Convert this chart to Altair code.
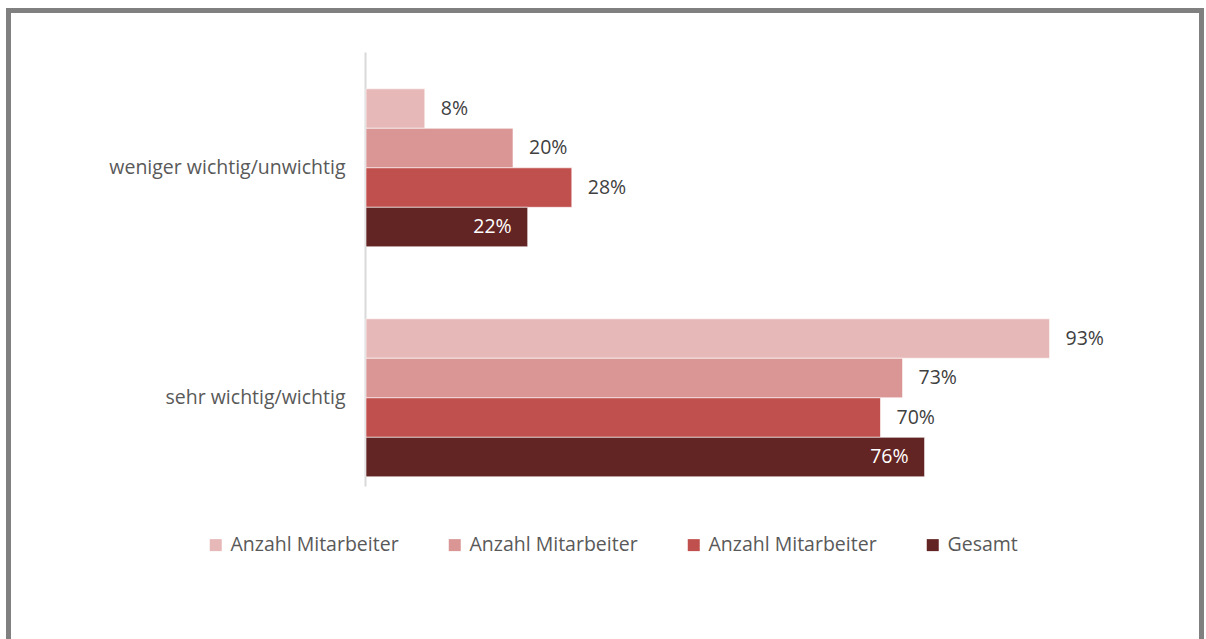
import altair as alt
import pandas as pd

categories = ["weniger wichtig/unwichtig", "sehr wichtig/wichtig"]
series_keys = ["s1", "s2", "s3", "s4"]
series_labels = ["Anzahl Mitarbeiter", "Anzahl Mitarbeiter", "Anzahl Mitarbeiter", "Gesamt"]
values_weniger = [8, 20, 28, 22]
values_sehr = [93, 73, 70, 76]
colors = ["#E6B9B8", "#D99694", "#C0504D", "#632523"]

rows = []
for cat, vals in zip(categories, [values_weniger, values_sehr]):
    for key, v in zip(series_keys, vals):
        rows.append({"Kategorie": cat, "Serie": key, "Wert": v, "Label": f"{v}%"})
df = pd.DataFrame(rows)

label_map = "{" + ", ".join(f"'{k}': '{l}'" for k, l in zip(series_keys, series_labels)) + "}"

FONT = "Open Sans"
FS = 19.5

y_enc = alt.Y("Kategorie:N", sort=categories,
              scale=alt.Scale(domain=categories, paddingInner=0.313, paddingOuter=0.1, align=0.8),
              axis=alt.Axis(title=None, ticks=False, labelFontSize=FS, labelColor="#595959",
                            labelFont=FONT, labelPadding=20, domainColor="#D9D9D9",
                            domainWidth=2, offset=1, labelLimit=400))
yoff = alt.YOffset("Serie:N", sort=series_keys,
                   scale=alt.Scale(domain=series_keys, paddingInner=0, paddingOuter=0))
x_enc = alt.X("Wert:Q", scale=alt.Scale(domain=[0, 100]), axis=None)

base = alt.Chart(df)

bars = base.mark_bar(stroke="white", strokeWidth=0.6).encode(
    x=x_enc, y=y_enc, yOffset=yoff,
    color=alt.Color("Serie:N", sort=series_keys,
                    scale=alt.Scale(domain=series_keys, range=colors),
                    legend=alt.Legend(title=None, orient="none", direction="horizontal",
                                      legendX=-160, legendY=483,
                                      symbolType="square", symbolSize=144, symbolStrokeWidth=0,
                                      labelFont=FONT, labelFontSize=FS, labelColor="#595959",
                                      labelOffset=5, columnPadding=46, gridAlign="all",
                                      labelExpr=f"{label_map}[datum.value]",
                                      labelLimit=300)),
)

outside = base.transform_filter(alt.datum.Serie != "s4").mark_text(
    align="left", baseline="middle", dx=16, font=FONT, fontSize=FS, color="#404040"
).encode(x=x_enc, y=y_enc, yOffset=yoff, text="Label:N")

inside = base.transform_filter(alt.datum.Serie == "s4").mark_text(
    align="right", baseline="middle", dx=-16, font=FONT, fontSize=FS, color="white"
).encode(x=x_enc, y=y_enc, yOffset=yoff, text="Label:N")

frame = alt.Chart(pd.DataFrame({"a": [0]})).mark_rect(
    fillOpacity=0, stroke="#808080", strokeWidth=5
).encode(x=alt.value(-357.5), x2=alt.value(835.5), y=alt.value(-41.5), y2=alt.value(600))

chart = alt.layer(frame, bars, outside, inside).properties(
    width=735, height=434,
    autosize=alt.AutoSizeParams(type="none"),
    padding={"left": 366, "top": 52, "right": 105, "bottom": 153},
    background="white",
).configure_view(stroke=None)

chart.save("out.html", embed_options={"renderer": "svg", "actions": False})
